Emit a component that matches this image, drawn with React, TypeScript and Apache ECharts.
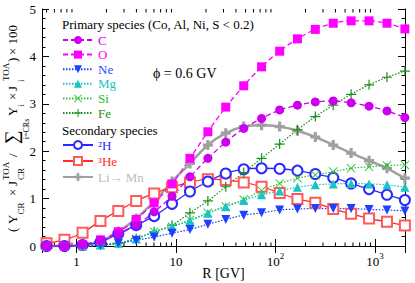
import React, { useEffect, useRef } from 'react';
import * as echarts from 'echarts';

// ---------- data ----------
const rigidity = [0.5, 0.757, 1.15, 1.74, 2.63, 3.98, 6.03, 9.12, 13.8, 20.9, 31.6, 47.9, 72.4, 110, 166, 251, 380, 575, 871, 1318, 1995];
const carbon = [0.0, 0.0, 0.03, 0.12, 0.25, 0.44, 0.72, 1.05, 1.46, 1.85, 2.19, 2.48, 2.69, 2.87, 2.97, 3.04, 3.06, 3.02, 2.95, 2.85, 2.71];
const oxygen = [0.0, 0.0, 0.03, 0.13, 0.3, 0.56, 0.91, 1.31, 1.85, 2.41, 2.93, 3.38, 3.78, 4.11, 4.37, 4.57, 4.7, 4.75, 4.75, 4.7, 4.58];
const neon = [0.0, 0.0, 0.0, 0.02, 0.06, 0.12, 0.19, 0.27, 0.35, 0.46, 0.56, 0.65, 0.7, 0.76, 0.78, 0.79, 0.79, 0.79, 0.77, 0.76, 0.74];
const magnesium = [0.0, 0.0, 0.0, 0.02, 0.06, 0.15, 0.3, 0.41, 0.53, 0.69, 0.83, 0.96, 1.08, 1.16, 1.24, 1.29, 1.31, 1.32, 1.31, 1.29, 1.24];
const silicon = [0.0, 0.0, 0.0, 0.02, 0.06, 0.15, 0.3, 0.41, 0.55, 0.7, 0.84, 0.98, 1.17, 1.32, 1.43, 1.5, 1.57, 1.64, 1.67, 1.7, 1.71];
const iron = [0.0, 0.0, 0.0, 0.02, 0.06, 0.16, 0.3, 0.44, 0.7, 0.95, 1.25, 1.55, 1.85, 2.15, 2.45, 2.73, 2.97, 3.2, 3.4, 3.56, 3.69];
const deuterium = [0.0, 0.0, 0.02, 0.08, 0.26, 0.44, 0.63, 0.89, 1.15, 1.36, 1.53, 1.62, 1.64, 1.63, 1.59, 1.52, 1.44, 1.32, 1.2, 1.08, 0.97];
const helium3 = [0.06, 0.13, 0.28, 0.53, 0.74, 0.95, 1.11, 1.24, 1.34, 1.41, 1.39, 1.34, 1.25, 1.12, 0.99, 0.91, 0.78, 0.68, 0.58, 0.51, 0.43];
const liToMn = [0.0, 0.0, 0.02, 0.1, 0.3, 0.58, 0.94, 1.36, 1.74, 2.13, 2.38, 2.52, 2.55, 2.52, 2.43, 2.3, 2.13, 1.96, 1.8, 1.64, 1.43];

const minorTickValues = [0.5, 0.6, 0.7, 0.8, 0.9, 2, 3, 4, 5, 6, 7, 8, 9, 20, 30, 40, 50, 60, 70, 80, 90, 200, 300, 400, 500, 600, 700, 800, 900];

const FONT = '"Liberation Serif", "DejaVu Serif", serif';

const PLUS_THIN = 'path://M4.4,0H5.6V4.4H10V5.6H5.6V10H4.4V5.6H0V4.4H4.4Z';
const X_THIN = 'path://M0.7,0L5,4.3L9.3,0L10,0.7L5.7,5L10,9.3L9.3,10L5,5.7L0.7,10L0,9.3L4.3,5L0,0.7Z';
const PLUS_THICK = 'path://M3.4,0H6.6V3.4H10V6.6H6.6V10H3.4V6.6H0V3.4H3.4Z';

function pairs(vals: number[]) {
  return rigidity.map((r, i) => [r, vals[i]]);
}

function lineSeries(name: string, vals: number[], color: string, symbol: string, size: number, lineType: any, width: number, extra: any = {}) {
  return {
    name,
    type: 'line',
    data: pairs(vals),
    symbol,
    symbolSize: size,
    smooth: 0.3,
    clip: false,
    lineStyle: { color, width, type: lineType },
    itemStyle: { color, borderWidth: 1 },
    emphasis: { disabled: true },
    ...extra,
  };
}

const titleTokens = [
  { t: '(', lx: 0, ly: 0, fs: 13 },
  { t: 'Y', lx: 8, ly: 0, fs: 13 },
  { t: 'CR', lx: 17.5, ly: 8, fs: 9 },
  { t: '×', lx: 36, ly: 0, fs: 13 },
  { t: 'J', lx: 46, ly: 0, fs: 13 },
  { t: 'TOA', lx: 52, ly: -7, fs: 9 },
  { t: 'CR', lx: 52, ly: 8, fs: 9 },
  { t: '/', lx: 75, ly: 0, fs: 13 },
  { t: '∑', lx: 88, ly: -1, fs: 19 },
  { t: 'i=CRs', lx: 103, ly: 13.5, fs: 8, align: 'center' },
  { t: 'Y', lx: 116, ly: 0, fs: 13 },
  { t: 'i', lx: 125.5, ly: 8, fs: 9 },
  { t: '×', lx: 132, ly: 0, fs: 13 },
  { t: 'J', lx: 141, ly: 0, fs: 13 },
  { t: 'TOA', lx: 151, ly: -7, fs: 9 },
  { t: 'i', lx: 150, ly: 8, fs: 9 },
  { t: ')', lx: 170, ly: 0, fs: 13 },
  { t: '× 100', lx: 177, ly: 0, fs: 13 },
];

export default function App() {
  const ref = useRef<HTMLDivElement>(null);
  useEffect(() => {
    if (!ref.current) return;
    const chart = echarts.init(ref.current, undefined, { renderer: 'svg' });
    const xLabel = (v: number) => {
      const lg = Math.log10(v);
      const e = Math.round(lg);
      if (Math.abs(lg - e) > 1e-6) return '';
      if (e === 0) return '{n|1}';
      if (e === 1) return '{n|10}';
      return '{n|10}{s|' + e + '}';
    };
    const axisBase = {
      axisLine: { show: true, lineStyle: { color: '#000', width: 1 } },
      splitLine: { show: false },
    };
    const option: any = {
      animation: false,
      backgroundColor: '#fff',
      grid: { left: 42, right: 10, top: 9, bottom: 37, containLabel: false, outerBoundsMode: 'none' },
      xAxis: [
        {
          ...axisBase,
          type: 'log',
          logBase: 10,
          min: 0.45,
          max: 2000,
          position: 'bottom',
          axisTick: { show: true, inside: true, length: 7, lineStyle: { color: '#000' } },
          axisLabel: {
            formatter: xLabel,
            margin: 5,
            rich: {
              n: { fontSize: 13, fontFamily: FONT, color: '#000', lineHeight: 17, verticalAlign: 'bottom' },
              s: { fontSize: 9, fontFamily: FONT, color: '#000', lineHeight: 17, verticalAlign: 'top' },
            },
          },
          name: 'R [GV]',
          nameLocation: 'middle',
          nameGap: 20,
          nameMoveOverlap: false,
          nameTextStyle: { fontSize: 14, fontFamily: FONT, color: '#000' },
        },
        {
          ...axisBase,
          type: 'log',
          logBase: 10,
          min: 0.45,
          max: 2000,
          position: 'top',
          axisTick: { show: true, inside: true, length: 7, lineStyle: { color: '#000' } },
          axisLabel: { show: false },
        },
      ],
      yAxis: [
        {
          ...axisBase,
          type: 'value',
          min: 0,
          max: 5,
          interval: 1,
          position: 'left',
          axisTick: { show: true, inside: true, length: 7, lineStyle: { color: '#000' } },
          minorTick: { show: true, splitNumber: 5, length: 3.5, lineStyle: { color: '#000' } },
          axisLabel: { fontSize: 13, fontFamily: FONT, color: '#000', margin: 6 },
        },
        {
          ...axisBase,
          type: 'value',
          min: 0,
          max: 5,
          interval: 1,
          position: 'right',
          axisTick: { show: true, inside: true, length: 7, lineStyle: { color: '#000' } },
          minorTick: { show: true, splitNumber: 5, length: 3.5, lineStyle: { color: '#000' } },
          axisLabel: { show: false },
        },
      ],
      legend: [
        {
          data: [
            { name: 'C', textStyle: { color: '#cc00ee' } },
            { name: 'O', textStyle: { color: '#ff00ff' } },
            { name: 'Ne', textStyle: { color: '#2a4cff' } },
            { name: 'Mg', textStyle: { color: '#18c4c4' } },
            { name: 'Si', textStyle: { color: '#2cbc2c' } },
            { name: 'Fe', textStyle: { color: '#1a901a' } },
          ],
          orient: 'vertical',
          left: 62,
          top: 33,
          padding: 0,
          itemWidth: 30,
          itemHeight: 10,
          itemGap: 0.6,
          selectedMode: false,
          textStyle: { fontSize: 13, fontFamily: FONT, lineHeight: 14 },
        },
        {
          data: [
            { name: '²H', textStyle: { color: '#2a2aff' } },
            { name: '³He', textStyle: { color: '#ff2a2a' } },
            { name: 'Li→ Mn', textStyle: { color: '#bcbcbc' } },
          ],
          orient: 'vertical',
          left: 62,
          top: 138,
          padding: 0,
          itemWidth: 30,
          itemHeight: 10,
          itemGap: 2,
          selectedMode: false,
          textStyle: { fontSize: 13, fontFamily: FONT, lineHeight: 14 },
        },
      ],
      graphic: [
        {
          type: 'text',
          left: 62,
          top: 18,
          silent: true,
          style: { text: 'Primary species (Co, Al, Ni, S < 0.2)', fontSize: 13, fontFamily: FONT, fill: '#000' },
        },
        {
          type: 'text',
          left: 62,
          top: 124,
          silent: true,
          style: { text: 'Secondary species', fontSize: 13, fontFamily: FONT, fill: '#000' },
        },
        {
          type: 'text',
          left: 153,
          top: 66,
          silent: true,
          style: { text: 'ϕ = 0.6 GV', fontSize: 14, fontFamily: FONT, fill: '#000' },
        },
        {
          type: 'group',
          x: 12.5,
          y: 232,
          rotation: Math.PI / 2,
          silent: true,
          children: titleTokens.map((tk) => ({
            type: 'text',
            x: tk.lx,
            y: tk.ly,
            style: {
              text: tk.t,
              fontSize: tk.fs,
              fontFamily: FONT,
              fill: '#000',
              align: (tk as any).align || 'left',
              verticalAlign: 'middle',
            },
          })),
        },
      ],
      series: [
        {
          type: 'custom',
          silent: true,
          clip: false,
          data: minorTickValues.map((v) => [v, 0]),
          encode: { x: 0, y: 1 },
          renderItem: (params: any, api: any) => {
            const v = api.value(0);
            const b = api.coord([v, 0]);
            const t = api.coord([v, 5]);
            return {
              type: 'group',
              children: [
                { type: 'line', shape: { x1: b[0], y1: b[1], x2: b[0], y2: b[1] - 3.5 }, style: { stroke: '#000', lineWidth: 1 } },
                { type: 'line', shape: { x1: t[0], y1: t[1], x2: t[0], y2: t[1] + 3.5 }, style: { stroke: '#000', lineWidth: 1 } },
              ],
            };
          },
        },
        lineSeries('Li→ Mn', liToMn, '#a0a0a0', PLUS_THICK, 10, 'solid', 2.5),
        lineSeries('³He', helium3, '#ff2a2a', 'emptyRect', 10, 'solid', 1.3, { itemStyle: { color: '#ff5a5a', borderWidth: 1 } }),
        lineSeries('²H', deuterium, '#2a2aff', 'emptyCircle', 10, 'solid', 1.3, { itemStyle: { color: '#2a2aff', borderWidth: 1 } }),
        lineSeries('Fe', iron, '#1a901a', PLUS_THIN, 10, [1.5, 1.5], 1.2),
        lineSeries('Si', silicon, '#33c033', X_THIN, 9, [1.5, 1.5], 1.2),
        lineSeries('Mg', magnesium, '#18c4c4', 'triangle', 9, [1.5, 1.5], 1.2),
        lineSeries('Ne', neon, '#1e40ff', 'triangle', 9, [1.5, 1.5], 1.2, { symbolRotate: 180 }),
        lineSeries('O', oxygen, '#ff00ff', 'rect', 9, [5, 3], 1.3),
        lineSeries('C', carbon, '#cc00ee', 'circle', 9, [5, 3], 1.3),
      ],
    };
    chart.setOption(option);
    return () => chart.dispose();
  }, []);
  return (
    <div
      ref={ref}
      style={{ position: 'fixed', left: 0, top: 0, width: 415, height: 283, background: '#fff' }}
    />
  );
}
